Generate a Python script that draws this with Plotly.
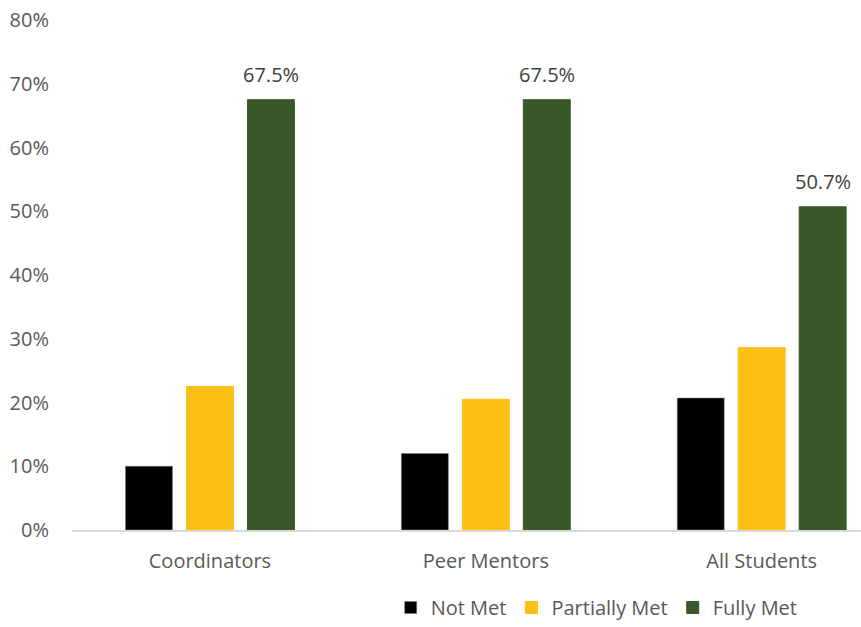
import plotly.graph_objects as go

categories = ["Coordinators", "Peer Mentors", "All Students"]
not_met = [0.100, 0.120, 0.207]
partially_met = [0.225, 0.205, 0.286]
fully_met = [0.675, 0.675, 0.507]
series_names = ["Not Met", "Partially Met", "Fully Met"]
colors = ["#000000", "#FDBE16", "#3A5829"]
y_ticks = [0, 0.1, 0.2, 0.3, 0.4, 0.5, 0.6, 0.7, 0.8]

FONT = "Open Sans"

fig = go.Figure()
for name, vals, col in zip(series_names, [not_met, partially_met, fully_met], colors):
    fig.add_trace(go.Bar(
        x=categories, y=vals, name=name,
        marker=dict(color=col, line=dict(color="rgba(120,120,120,0.6)" if name == "Not Met" else col, width=1)),
    ))

# data labels on the Fully Met bars
for i, v in enumerate(fully_met):
    fig.add_annotation(
        x=i + 0.221, y=v, xref="x", yref="y",
        text=f"{v*100:.1f}%", showarrow=False,
        yanchor="bottom", yshift=10,
        font=dict(family=FONT, size=20, color="#404040"),
    )

fig.update_layout(
    width=861, height=627,
    margin=dict(l=72, r=0, t=20, b=95),
    paper_bgcolor="white", plot_bgcolor="white",
    barmode="group", bargap=0.337, bargroupgap=0.23,
    font=dict(family=FONT, size=20, color="#595959"),
    showlegend=True,
    legend=dict(
        orientation="h", x=0.665, xanchor="center", y=-0.153, yanchor="middle",
        font=dict(family=FONT, size=20, color="#595959"),
        itemwidth=30, traceorder="normal",
    ),
    xaxis=dict(
        range=[-0.5, 2.36], showline=True, linecolor="#D9D9D9", linewidth=1.5,
        showgrid=False, ticks="", ticklabelstandoff=12,
        tickfont=dict(family=FONT, size=20, color="#595959"),
    ),
    yaxis=dict(
        range=[0, 0.8], tickvals=y_ticks, tickformat=".0%",
        showgrid=False, zeroline=False, showline=False, ticks="",
        ticklabelstandoff=22,
        tickfont=dict(family=FONT, size=20, color="#595959"),
    ),
)

fig.write_html("out.html")
